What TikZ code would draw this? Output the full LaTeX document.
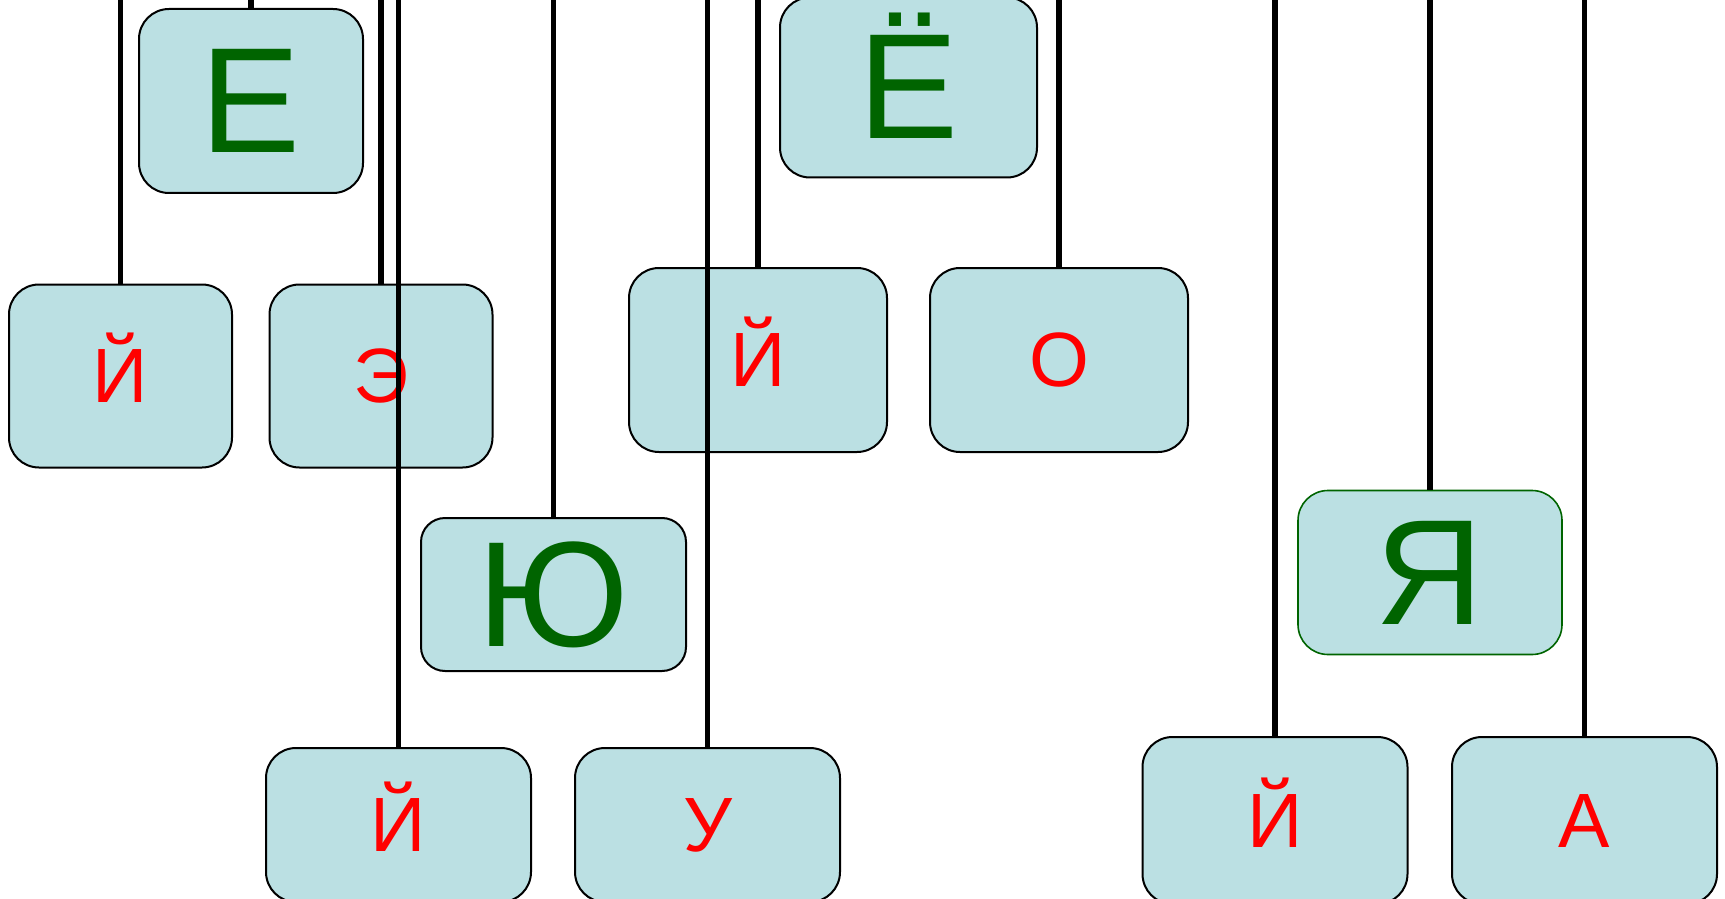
\documentclass[tikz,border=0pt]{standalone}
\usepackage{fontspec}
\setmainfont{Liberation Sans}
\usepackage{tikz}
\usetikzlibrary{positioning}
\usepackage{xcolor}
\definecolor{cardfill}{HTML}{BBE0E3}
\definecolor{vowel}{HTML}{006400}
\definecolor{sound}{HTML}{FF0000}

\begin{document}
\begin{tikzpicture}[x=0.5pt,y=-0.5pt,
  card/.style={draw=black,line width=1pt,fill=cardfill,rounded corners=15pt,
    inner sep=0pt,text depth=0pt},
  small/.style={card,minimum width=132.5pt,minimum height=91.5pt,text=sound,
    font=\fontsize{38.5}{42}\selectfont,text height=26.5pt},
  big/.style={card,minimum width=132pt,minimum height=90pt,text=vowel,
    font=\fontsize{75}{82}\selectfont,text height=51.5pt},
  stem/.style={line width=2.8pt,black}]
\useasboundingbox (0,0) rectangle (1725,899);
\coordinate (top) at (0,0);
% first row
\node[big,minimum width=112pt,minimum height=92pt] (ye) at (251,101) {Е};
\node[big,minimum width=128.5pt,minimum height=90pt] (yo) at (908.5,87.5) {Ё};
% second row
\node[small,minimum width=111.5pt] (yi1) at (120.5,376) {Й};
\node[small,minimum width=111.5pt] (e) at (381,376) {Э};
\node[small,minimum width=129pt,minimum height=92pt] (yi2) at (758,360) {Й};
\node[small,minimum width=129pt,minimum height=92pt] (o) at (1059,360) {О};
% third row
\node[big,minimum width=132.5pt,minimum height=76.5pt,rounded corners=12pt] (yu) at (553.5,594.5) {Ю};
\node[big,draw=vowel,line width=0.8pt,minimum height=82pt] (ya) at (1430,572.5) {Я};
% bottom row
\node[small,minimum height=77pt] (yi3) at (398.5,825) {Й};
\node[small,minimum height=77pt] (u) at (707.5,825) {У};
\node[small,minimum height=83.5pt] (yi4) at (1275,820.5) {Й};
\node[small,minimum height=83.5pt] (a) at (1584.5,820.5) {А};
% stems
\foreach \n in {ye,yi1,e,yi2,o,yu,ya,yi3,u,yi4,a}
  \draw[stem] (\n.north) -- (\n.north |- top);
\end{tikzpicture}
\end{document}
